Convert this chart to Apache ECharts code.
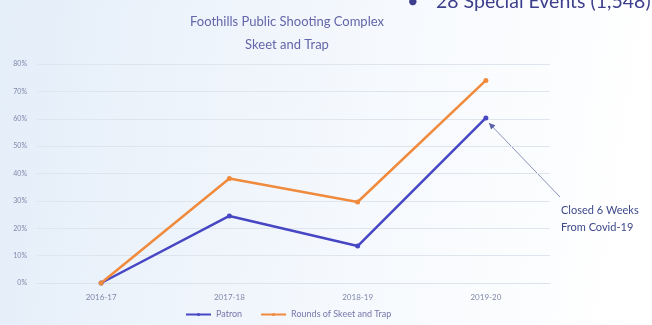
<!DOCTYPE html>
<html><head><meta charset="utf-8">
<script src="https://cdn.jsdelivr.net/npm/echarts@6/dist/echarts.min.js"></script>
<style>html,body{margin:0;padding:0;}#c{width:652px;height:325px;}</style>
</head><body><div id="c"></div>
<script>
var categories = ['2016-17', '2017-18', '2018-19', '2019-20'];
var patron = [0, 24.5, 13.5, 60.3];
var rounds = [0, 38.2, 29.6, 74];
var seriesNames = ['Patron', 'Rounds of Skeet and Trap'];
var yTicks = [0, 10, 20, 30, 40, 50, 60, 70, 80];

var chart = echarts.init(document.getElementById('c'));
var font = 'Lato, "Open Sans", sans-serif';
chart.setOption({
  backgroundColor: new echarts.graphic.LinearGradient(0, 0, 1, 0.3, [
    {offset: 0, color: '#e4eef9'}, {offset: 0.6, color: '#f6f9fd'}, {offset: 1, color: '#ffffff'}
  ]),
  animation: false,
  title: {
    text: 'Foothills Public Shooting Complex\nSkeet and Trap',
    left: 282, top: 5, textAlign: 'center',
    textStyle: {fontFamily: font, fontSize: 13, fontWeight: 'normal', color: '#6366a8', lineHeight: 23}
  },
  grid: {left: 37, right: 102, top: 64, bottom: 42},
  legend: {
    data: seriesNames, bottom: 1, left: 180, itemWidth: 25, itemHeight: 4, itemGap: 18,
    textStyle: {fontFamily: font, fontSize: 9, color: '#7777aa'}
  },
  xAxis: {
    type: 'category', data: categories, boundaryGap: true,
    axisLine: {lineStyle: {color: '#dde3ea'}}, axisTick: {show: false},
    axisLabel: {fontFamily: font, fontSize: 8, color: '#8088aa', margin: 10}
  },
  yAxis: {
    type: 'value', min: 0, max: 80, interval: 10,
    axisLine: {show: false}, axisTick: {show: false},
    splitLine: {lineStyle: {color: '#dfe5ec'}},
    axisLabel: {fontFamily: font, fontSize: 7, color: '#8088aa', margin: 10,
      formatter: function (v) { return yTicks.indexOf(v) >= 0 ? v + '%' : ''; }}
  },
  series: [
    {name: seriesNames[0], type: 'line', data: patron, symbol: 'circle', symbolSize: 5,
      lineStyle: {width: 2.5, color: '#4747c4'}, itemStyle: {color: '#4747c4'}},
    {name: seriesNames[1], type: 'line', data: rounds, symbol: 'circle', symbolSize: 5,
      lineStyle: {width: 2.5, color: '#f08a3c'}, itemStyle: {color: '#f08a3c'}}
  ],
  graphic: [
    {id: 'bullet', type: 'text', left: 407, top: -8, style: {text: '•', fontFamily: font, fontSize: 20, fill: '#3e3f8c'}},
    {id: 'events', type: 'text', left: 436, top: -8, style: {text: '28 Special Events (1,548)', fontFamily: font, fontSize: 19.5, fill: '#3e3f8c'}},
    {id: 'note', type: 'text', left: 561, top: 202, style: {text: 'Closed 6 Weeks\nFrom Covid-19', fontFamily: font, fontSize: 11, lineHeight: 17, fill: '#3e4a8a'}}
  ]
});
// arrow from annotation to the point, positioned via chart scales
var pt = chart.convertToPixel({seriesIndex: 0}, [3, patron[3]]);
var sx = 560, sy = 197, ex = pt[0] + 3, ey = pt[1] + 5;
var ang = Math.atan2(ey - sy, ex - sx), L = 7, W = 0.45;
chart.setOption({graphic: [
  {id: 'arrowLine', type: 'line', shape: {x1: sx, y1: sy, x2: ex, y2: ey}, style: {stroke: '#8890bb', lineWidth: 1}},
  {id: 'arrowHead', type: 'polygon', shape: {points: [[ex, ey],
    [ex - L * Math.cos(ang - W), ey - L * Math.sin(ang - W)],
    [ex - L * Math.cos(ang + W), ey - L * Math.sin(ang + W)]]}, style: {fill: '#5a60aa'}}
]});
</script></body></html>
